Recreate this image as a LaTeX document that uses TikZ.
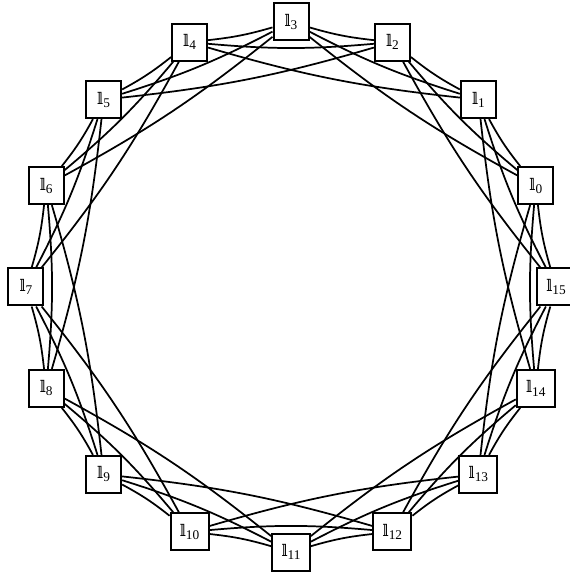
\documentclass[tikz,border=0pt]{standalone}
\usepackage{fontspec}
\setmainfont{Liberation Serif}
\newfontfamily\dsfont{DejaVu Serif}
\newcommand{\dl}[1]{{\dsfont\fontsize{12}{14}\selectfont 𝕝}\raisebox{-0.5ex}{\fontsize{10}{12}\selectfont #1}}

\begin{document}
\begin{tikzpicture}[x=0.75pt,y=0.75pt,
  lnode/.style={draw,line width=1.5pt,fill=white,inner xsep=7pt,
    minimum width=26.25pt,minimum height=27.75pt},
  link/.style={line width=1.3pt,bend left=5}]
\useasboundingbox (-291,-287) rectangle (278,287);
% sixteen boxes round the circle
\foreach \k in {0,...,15}
  {\node[lnode] (l\k) at ({22.5+22.5*\k}:265) {\dl{\k}};}
% each box is joined to the three next ones
\foreach \k in {0,...,15}
  \foreach \d in {1,2,3}
  {\pgfmathtruncatemacro{\j}{mod(\k+\d,16)}
   \draw[link] (l\k) to (l\j);}
\end{tikzpicture}
\end{document}
